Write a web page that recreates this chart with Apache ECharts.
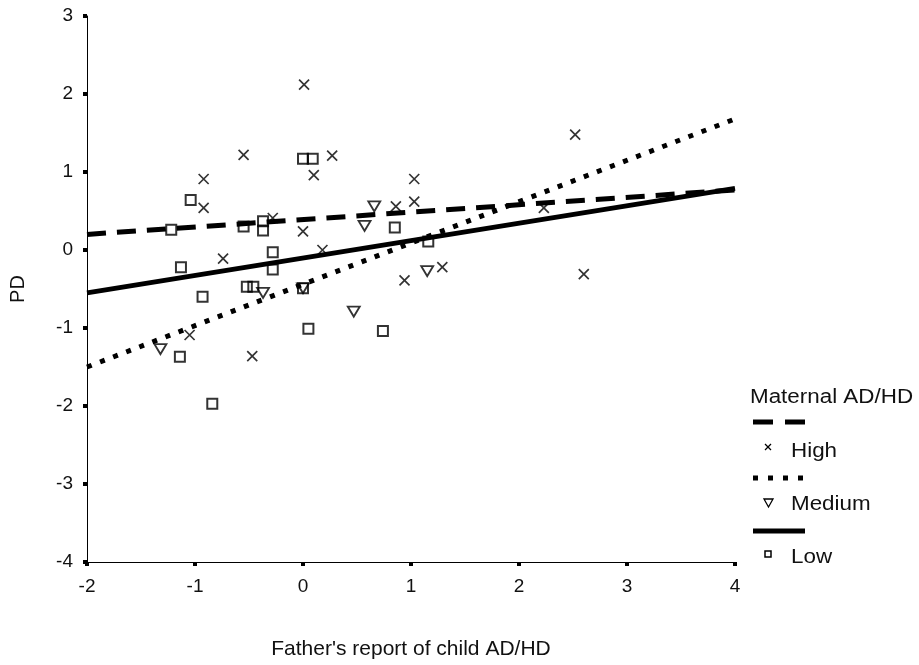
<!DOCTYPE html>
<html>
<head>
<meta charset="utf-8">
<script src="https://cdn.jsdelivr.net/npm/echarts@6/dist/echarts.min.js"></script>
<style>
html,body{margin:0;padding:0;background:#fff;}
#chart{width:919px;height:665px;}
</style>
</head>
<body>
<div id="chart"></div>
<script>
// ---- data ----
const xTicks = [-2, -1, 0, 1, 2, 3, 4];
const yTicks = [-4, -3, -2, -1, 0, 1, 2, 3];
const groups = ['High', 'Medium', 'Low'];

const highX = [0.01, -0.55, 0.27, 0.10, -0.92, -0.92, 1.03, 1.03, 0.86, -0.28, 0.00, 0.18, -0.74, 0.94, 1.29, -1.05, -0.47, 2.52, 2.23, 2.60];
const highY = [2.12, 1.22, 1.21, 0.96, 0.91, 0.54, 0.91, 0.62, 0.56, 0.41, 0.24, 0.00, -0.11, -0.39, -0.22, -1.09, -1.36, 1.48, 0.54, -0.31];

const medX = [0.66, 0.57, -0.37, -1.32, 0.00, 0.47, 1.15];
const medY = [0.56, 0.31, -0.55, -1.27, -0.49, -0.79, -0.27];

const lowX = [-1.04, -1.22, -0.55, -0.37, -0.37, 0.00, 0.09, -0.28, -1.13, -0.28, -0.52, -0.46, -0.93, 0.00, 0.05, -1.14, -0.84, 0.85, 1.16, 0.74];
const lowY = [0.64, 0.26, 0.30, 0.37, 0.25, 1.17, 1.17, -0.03, -0.22, -0.25, -0.47, -0.47, -0.60, -0.49, -1.01, -1.37, -1.97, 0.29, 0.11, -1.04];

// regression lines: endpoints at x = -2 and x = 4
const lineX = [-2, 4];
const highLine = [0.20, 0.77];
const medLine = [-1.50, 1.68];
const lowLine = [-0.55, 0.79];

const legendTitle = 'Maternal AD/HD';
const xName = "Father's report of child AD/HD";
const yName = 'PD';

// ---- build ----
const zip = (xs, ys) => xs.map((x, i) => [x, ys[i]]);
const FONT = '"Liberation Sans", Arial, sans-serif';
const crossPath = 'path://M0,0L10,10M10,0L0,10';

const chart = echarts.init(document.getElementById('chart'), null, {renderer: 'canvas'});

const lineStyles = {
  High: {type: [19, 11], width: 5},
  Medium: {type: [5, 9], width: 5},
  Low: {type: 'solid', width: 5}
};

const legendText = (txt, x, y) => ({
  type: 'text', x: x, y: y, scaleX: 1.12,
  style: {text: txt, font: '20px ' + FONT, fill: '#111', verticalAlign: 'middle', textVerticalAlign: 'middle'}
});

chart.setOption({
  animation: false,
  backgroundColor: '#fff',
  grid: {left: 87, right: 184, top: 16, bottom: 97, containLabel: false},
  xAxis: {
    type: 'value', min: xTicks[0], max: xTicks[xTicks.length - 1], interval: 1,
    name: xName, nameLocation: 'middle', nameGap: 77,
    nameTextStyle: {fontFamily: FONT, fontSize: 21, color: '#111'},
    axisLine: {onZero: false, lineStyle: {color: '#000', width: 1}},
    axisTick: {show: true, length: 4, lineStyle: {color: '#000', width: 4}},
    axisLabel: {fontFamily: FONT, fontSize: 19, color: '#111', margin: 15},
    splitLine: {show: false}
  },
  yAxis: {
    type: 'value', min: yTicks[0], max: yTicks[yTicks.length - 1], interval: 1,
    name: yName, nameLocation: 'middle', nameGap: 59, nameRotate: 90,
    nameTextStyle: {fontFamily: FONT, fontSize: 20, color: '#111'},
    axisLine: {onZero: false, lineStyle: {color: '#000', width: 1}},
    axisTick: {show: true, length: 4, lineStyle: {color: '#000', width: 4}},
    axisLabel: {fontFamily: FONT, fontSize: 19, color: '#111', margin: 14},
    splitLine: {show: false}
  },
  series: [
    {type: 'line', name: 'HighLine', data: zip(lineX, highLine), symbol: 'none',
     lineStyle: Object.assign({color: '#000', cap: 'butt'}, lineStyles.High), z: 3},
    {type: 'line', name: 'MedLine', data: zip(lineX, medLine), symbol: 'none',
     lineStyle: Object.assign({color: '#000', cap: 'butt'}, lineStyles.Medium), z: 3},
    {type: 'line', name: 'LowLine', data: zip(lineX, lowLine), symbol: 'none',
     lineStyle: Object.assign({color: '#000', cap: 'butt'}, lineStyles.Low), z: 3},
    {type: 'scatter', name: 'High', data: zip(highX, highY), symbol: crossPath, symbolSize: 10,
     itemStyle: {color: 'none', borderColor: '#000', borderWidth: 1.7}, z: 4},
    {type: 'scatter', name: 'Medium', data: zip(medX, medY), symbol: 'triangle', symbolRotate: 180, symbolSize: [12, 10],
     itemStyle: {color: 'rgba(255,255,255,0)', borderColor: '#000', borderWidth: 1.8}, z: 4},
    {type: 'scatter', name: 'Low', data: zip(lowX, lowY), symbol: 'rect', symbolSize: 10,
     itemStyle: {color: 'rgba(255,255,255,0)', borderColor: '#000', borderWidth: 2}, z: 4}
  ],
  graphic: [
    legendText(legendTitle, 750, 397),
    {type: 'line', shape: {x1: 753, y1: 422, x2: 805, y2: 422}, style: {stroke: '#000', lineWidth: 5, lineDash: [20, 12]}},
    {type: 'line', shape: {x1: 765, y1: 444, x2: 771, y2: 450}, style: {stroke: '#000', lineWidth: 1.3}},
    {type: 'line', shape: {x1: 771, y1: 444, x2: 765, y2: 450}, style: {stroke: '#000', lineWidth: 1.3}},
    legendText(groups[0], 791, 451),
    {type: 'line', shape: {x1: 753, y1: 478, x2: 805, y2: 478}, style: {stroke: '#000', lineWidth: 5, lineDash: [5, 10]}},
    {type: 'polygon', shape: {points: [[764, 499], [773, 499], [768.5, 507]]}, style: {stroke: '#000', lineWidth: 1.3, fill: 'rgba(0,0,0,0)'}},
    legendText(groups[1], 791, 504),
    {type: 'line', shape: {x1: 753, y1: 531, x2: 805, y2: 531}, style: {stroke: '#000', lineWidth: 5}},
    {type: 'rect', shape: {x: 765, y: 551, width: 6, height: 6}, style: {stroke: '#000', lineWidth: 1.5, fill: 'rgba(0,0,0,0)'}},
    legendText(groups[2], 791, 557)
  ]
});
</script>
</body>
</html>
